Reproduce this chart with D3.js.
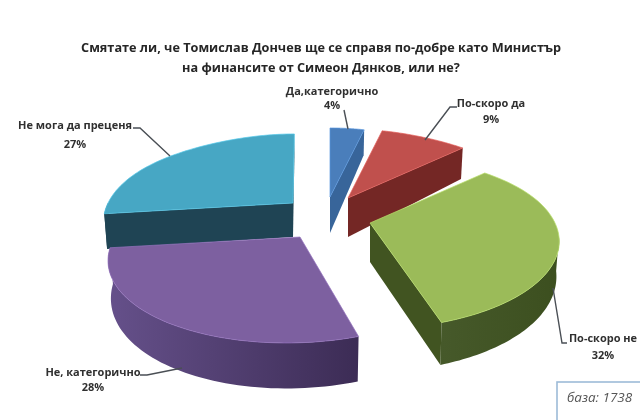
<!DOCTYPE html>
<html><head><meta charset="utf-8">
<script src="https://cdn.jsdelivr.net/npm/d3@7"></script>
<style>html,body{margin:0;background:#fff;overflow:hidden}svg{display:block;filter:blur(.45px)}text{font-family:"Open Sans",sans-serif}</style>
</head><body><svg id="c" width="640" height="420"></svg>
<script>
const categories=["Да,категорично","По-скоро да","По-скоро не","Не, категорично","Не мога да преценя"];
const values=[4,9,32,28,27];
const titleLines=["Смятате ли, че Томислав Дончев ще се справя по-добре като Министър","на финансите от Симеон Дянков, или не?"];
const baseNote="база: 1738";

// layout only
const topColors=["#4a7ebb","#c0504d","#9bbb59","#7d60a0","#47a7c4"];
const edgeColors=["#38659a","#742725","#415421","#4a3768","#1f4454"];
const rimFrom=["#38659a","#742725","#46592a","#65508a","#1f4454"];
const rimTo=["#38659a","#742725","#3c4f1f","#3c2c55","#1f4454"];
const apex=[[330,197],[348,198],[370,223],[300,237],[293,203]];
const apexDepth=[36,39,39,35,34];
const rimDepth=[36,39,33,35,34];
const skew=[0,0,0,-.13,-.02];
const order=[4,0,1,2,3];
const rx=185,ry=83.6,k=.211;
const labelPos=[[332,95,14],[491,107,16],[603,342,17],[93,376,15],[75,129,19]];
const leaders=[[[344,110],[348,129]],[[457,107],[450,107],[425,140]],[[567,343],[562,343],[553,288]],[[140,375],[147,375],[182,368]],[[133,128],[140,128],[170,156]]];

const svg=d3.select("#c");
const defs=svg.append("defs");
const pie=d3.pie().sort(null)(values);
const line=d3.line();
function rim(i,t){
  const c=Math.cos(t), p=1/(1+k*c), back=1-.12*Math.pow(Math.max(0,c),4);
  const dx=rx*Math.sin(t)*p*back, dy=-ry*c*p;
  return [apex[i][0]+dx+skew[i]*dy, apex[i][1]+dy];
}
function rimB(i,t){
  const q=rim(i,t), d=rimDepth[i]*(1-.3*Math.cos(t));
  return [apex[i][0]+(q[0]-apex[i][0])*.985, q[1]+d];
}
const apexB=i=>[apex[i][0],apex[i][1]+apexDepth[i]];
const arcAngles=(a,b)=>d3.range(0,61).map(j=>a+(b-a)*j/60);

order.forEach(i=>{
  const s=pie[i], a=s.startAngle, b=s.endAngle;
  const g=svg.append("g");
  [[a,-1],[b,1]].forEach(([t,dir])=>{
    if(Math.cos(t+dir*Math.PI/2)<0){
      g.append("path").attr("d",line([apex[i],rim(i,t),rimB(i,t),apexB(i)])+"Z").attr("fill",edgeColors[i]);
    }
  });
  const lo=Math.max(a,Math.PI*.55), hi=Math.min(b,Math.PI*1.5);
  if(hi>lo){
    const gid="rim"+i;
    const gr=defs.append("linearGradient").attr("id",gid).attr("gradientUnits","userSpaceOnUse")
      .attr("x1",rim(i,hi)[0]).attr("x2",rim(i,lo)[0]).attr("y1",0).attr("y2",0);
    gr.append("stop").attr("offset",0).attr("stop-color",rimFrom[i]);
    gr.append("stop").attr("offset",1).attr("stop-color",rimTo[i]);
    const ts=arcAngles(lo,hi);
    g.append("path").attr("d",line(ts.map(t=>rim(i,t)).concat(ts.slice().reverse().map(t=>rimB(i,t))))+"Z").attr("fill",`url(#${gid})`);
  }
  g.append("path").attr("d",line([apex[i]].concat(arcAngles(a,b).map(t=>rim(i,t))))+"Z")
    .attr("fill",topColors[i]).attr("stroke",d3.color(topColors[i]).brighter(.5)).attr("stroke-width",.7).attr("stroke-linejoin","round");
});

leaders.forEach(l=>svg.append("path").attr("d",line(l)).attr("fill","none").attr("stroke","#4a4f55").attr("stroke-width",1.4));

categories.forEach((c,i)=>{
  const [x,y,dy]=labelPos[i];
  const t=svg.append("text").attr("text-anchor","middle").attr("font-size",11).attr("font-weight",700).attr("fill","#303030");
  t.append("tspan").attr("x",x).attr("y",y).text(c);
  t.append("tspan").attr("x",x).attr("y",y+dy).text(values[i]+"%");
});

titleLines.forEach((l,i)=>svg.append("text").attr("x",321).attr("y",52+i*20).attr("text-anchor","middle")
  .attr("font-size",12.7).attr("font-weight",700).attr("fill","#262626").text(l));

svg.append("rect").attr("x",557).attr("y",382).attr("width",100).attr("height",60).attr("fill","#fff").attr("stroke","#9dbbd8").attr("stroke-width",1.6);
svg.append("text").attr("x",567).attr("y",402).attr("font-size",13.5).attr("font-style","italic").attr("fill","#555").text(baseNote);
</script></body></html>
